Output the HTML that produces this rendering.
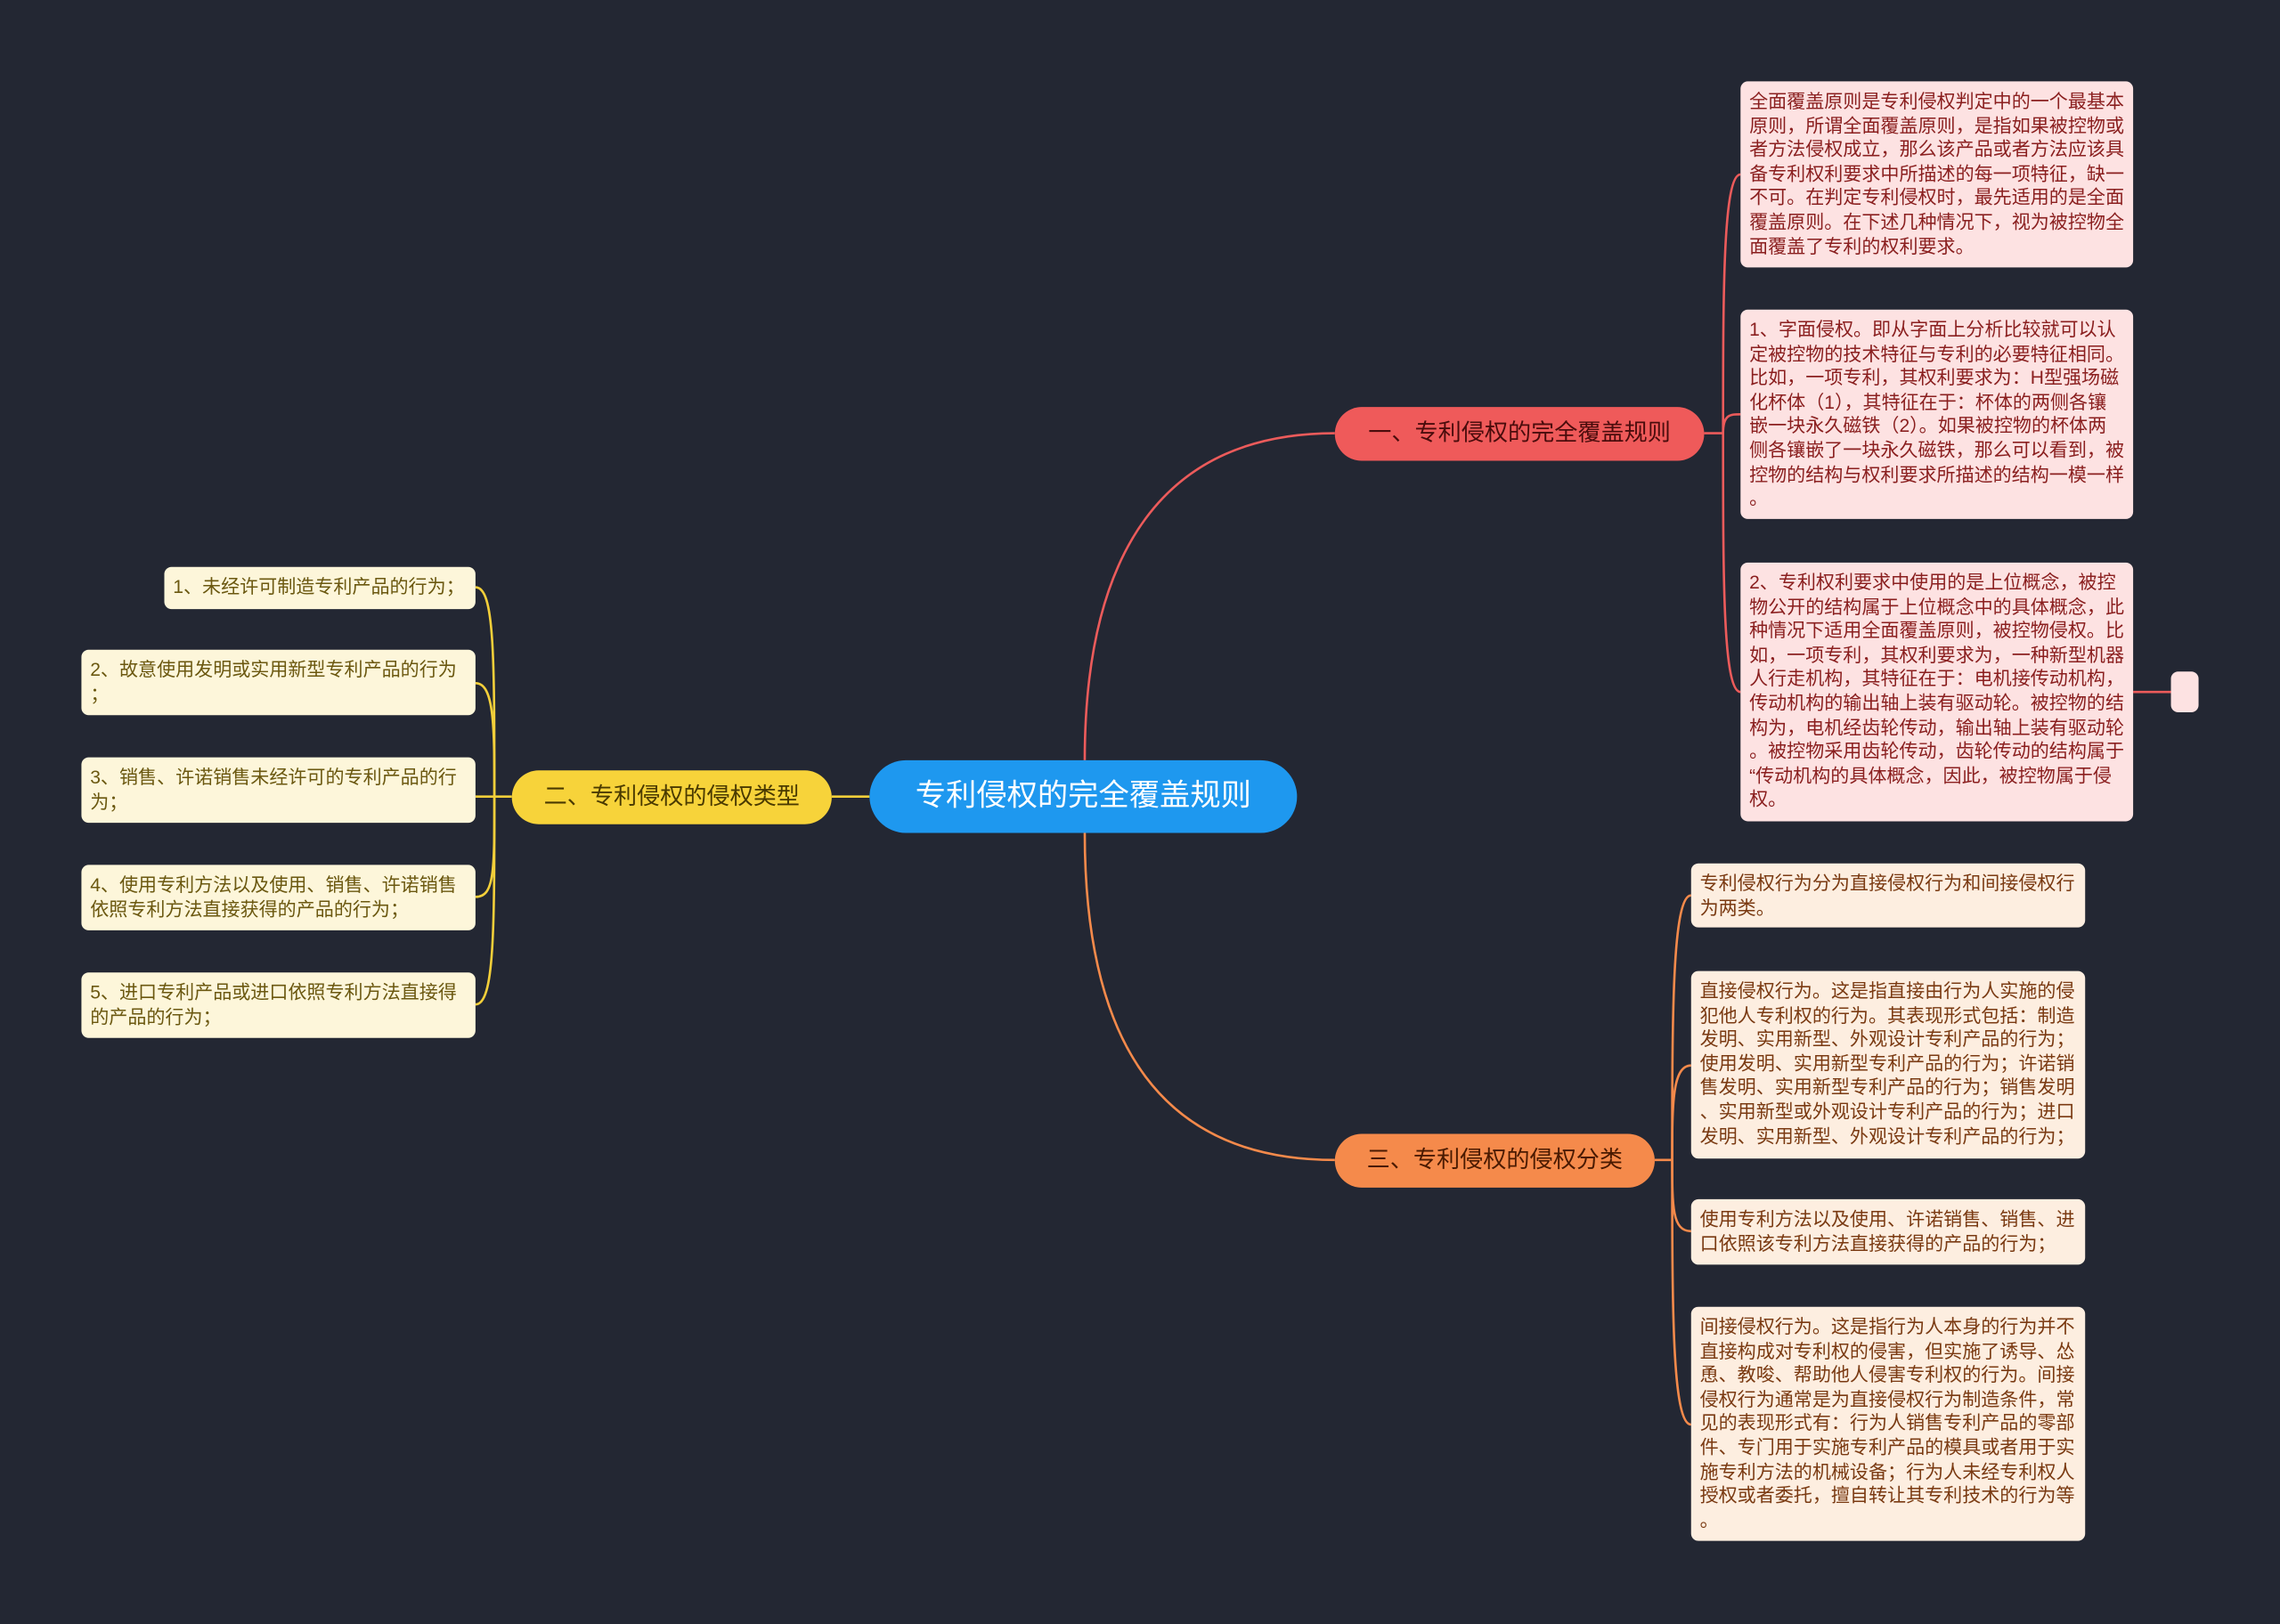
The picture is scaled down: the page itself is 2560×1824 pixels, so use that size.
<!DOCTYPE html>
<html><head><meta charset="utf-8"><style>
html,body{margin:0;padding:0;background:#232733;width:2560px;height:1823px;overflow:hidden}
#w{position:absolute;left:0;top:0;width:1568px;height:1117px;transform:scale(1.63265);transform-origin:0 0;font-family:"Liberation Sans","Noto Sans CJK SC",sans-serif}
.b{position:absolute;box-sizing:border-box;border-radius:5px;padding:6px 6px;font-size:12.9px;line-height:16.6px;white-space:nowrap}
.r{background:#fde2e2;color:#8a1f1f}
.o{background:#fdeee0;color:#7a3a12}
.y{background:#fdf6da;color:#6b5810}
.n{position:absolute;box-sizing:border-box;border-radius:19px;text-align:center;white-space:nowrap}
</style></head><body><div id="w">
<svg width="1568" height="1117" style="position:absolute;left:0;top:0" fill="none" stroke-width="1.6">
<path d="M746 523 C746 380 800 298 918 298" stroke="#ec5b5b"/>
<path d="M746 573 C746 720 800 798 918 798" stroke="#f58a4b"/>
<path d="M572 548 L598 548" stroke="#f3cf3a"/>
<g stroke="#ec5b5b">
<path d="M1172 298 L1185 298"/>
<path d="M1185 298 C1185 200 1185 120 1197 120"/>
<path d="M1185 298 C1185 285 1190 285 1197 285"/>
<path d="M1185 298 C1185 400 1185 476 1197 476"/>
<path d="M1467 476 L1493 476"/>
</g>
<g stroke="#f58a4b">
<path d="M1138 798 L1150 798"/>
<path d="M1150 798 C1150 700 1150 616 1163 616"/>
<path d="M1150 798 C1150 760 1150 733 1163 733"/>
<path d="M1150 798 C1150 830 1150 847 1163 847"/>
<path d="M1150 798 C1150 900 1150 980 1163 980"/>
</g>
<g stroke="#f3cf3a">
<path d="M352 548 L340 548"/>
<path d="M340 548 C340 450 340 404 327 404"/>
<path d="M340 548 C340 500 340 470 327 470"/>
<path d="M340 548 L327 548"/>
<path d="M340 548 C340 600 340 617 327 617"/>
<path d="M340 548 C340 640 340 691 327 691"/>
</g>
</svg>
<div class="n" style="left:598px;top:523px;width:294px;height:50px;border-radius:25px;background:#1e98ef;color:#fff;font-size:21px;line-height:50px">专利侵权的完全覆盖规则</div>
<div class="n" style="left:918px;top:280px;width:254px;height:37px;background:#ef5a5a;color:#4a0c0c;font-size:16px;line-height:37px">一、专利侵权的完全覆盖规则</div>
<div class="n" style="left:352px;top:530px;width:220px;height:37px;background:#f7d33a;color:#4a3a00;font-size:16px;line-height:37px">二、专利侵权的侵权类型</div>
<div class="n" style="left:918px;top:780px;width:220px;height:37px;background:#f58a4b;color:#4a1a00;font-size:16px;line-height:37px">三、专利侵权的侵权分类</div>

<div class="b r" style="left:1197px;top:56px;width:270px;height:128px">全面覆盖原则是专利侵权判定中的一个最基本<br>原则，所谓全面覆盖原则，是指如果被控物或<br>者方法侵权成立，那么该产品或者方法应该具<br>备专利权利要求中所描述的每一项特征，缺一<br>不可。在判定专利侵权时，最先适用的是全面<br>覆盖原则。在下述几种情况下，视为被控物全<br>面覆盖了专利的权利要求。</div>
<div class="b r" style="left:1197px;top:213px;width:270px;height:144px">1、字面侵权。即从字面上分析比较就可以认<br>定被控物的技术特征与专利的必要特征相同。<br>比如，一项专利，其权利要求为：H型强场磁<br>化杯体（1），其特征在于：杯体的两侧各镶<br>嵌一块永久磁铁（2）。如果被控物的杯体两<br>侧各镶嵌了一块永久磁铁，那么可以看到，被<br>控物的结构与权利要求所描述的结构一模一样<br>。</div>
<div class="b r" style="left:1197px;top:387px;width:270px;height:178px">2、专利权利要求中使用的是上位概念，被控<br>物公开的结构属于上位概念中的具体概念，此<br>种情况下适用全面覆盖原则，被控物侵权。比<br>如，一项专利，其权利要求为，一种新型机器<br>人行走机构，其特征在于：电机接传动机构，<br>传动机构的输出轴上装有驱动轮。被控物的结<br>构为，电机经齿轮传动，输出轴上装有驱动轮<br>。被控物采用齿轮传动，齿轮传动的结构属于<br>“传动机构的具体概念，因此，被控物属于侵<br>权。</div>
<div class="b r" style="left:1493px;top:462px;width:19px;height:28px;padding:0"></div>

<div class="b o" style="left:1163px;top:594px;width:271px;height:44px">专利侵权行为分为直接侵权行为和间接侵权行<br>为两类。</div>
<div class="b o" style="left:1163px;top:668px;width:271px;height:129px">直接侵权行为。这是指直接由行为人实施的侵<br>犯他人专利权的行为。其表现形式包括：制造<br>发明、实用新型、外观设计专利产品的行为；<br>使用发明、实用新型专利产品的行为；许诺销<br>售发明、实用新型专利产品的行为；销售发明<br>、实用新型或外观设计专利产品的行为；进口<br>发明、实用新型、外观设计专利产品的行为；</div>
<div class="b o" style="left:1163px;top:825px;width:271px;height:45px">使用专利方法以及使用、许诺销售、销售、进<br>口依照该专利方法直接获得的产品的行为；</div>
<div class="b o" style="left:1163px;top:899px;width:271px;height:161px">间接侵权行为。这是指行为人本身的行为并不<br>直接构成对专利权的侵害，但实施了诱导、怂<br>恿、教唆、帮助他人侵害专利权的行为。间接<br>侵权行为通常是为直接侵权行为制造条件，常<br>见的表现形式有：行为人销售专利产品的零部<br>件、专门用于实施专利产品的模具或者用于实<br>施专利方法的机械设备；行为人未经专利权人<br>授权或者委托，擅自转让其专利技术的行为等<br>。</div>

<div class="b y" style="left:113px;top:390px;width:214px;height:29px">1、未经许可制造专利产品的行为；</div>
<div class="b y" style="left:56px;top:447px;width:271px;height:45px">2、故意使用发明或实用新型专利产品的行为<br>；</div>
<div class="b y" style="left:56px;top:521px;width:271px;height:45px">3、销售、许诺销售未经许可的专利产品的行<br>为；</div>
<div class="b y" style="left:56px;top:595px;width:271px;height:45px">4、使用专利方法以及使用、销售、许诺销售<br>依照专利方法直接获得的产品的行为；</div>
<div class="b y" style="left:56px;top:669px;width:271px;height:45px">5、进口专利产品或进口依照专利方法直接得<br>的产品的行为；</div>
</div></body></html>
